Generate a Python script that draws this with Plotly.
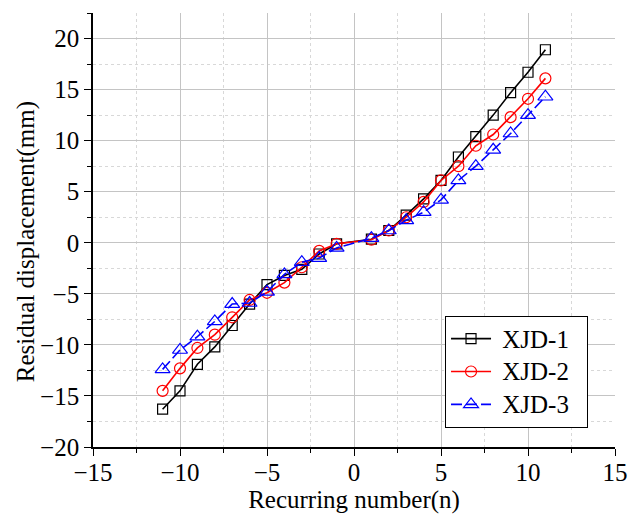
import plotly.graph_objects as go

# Recurring number (cycle index); no cycle at n = 0
cycles = [-11, -10, -9, -8, -7, -6, -5, -4, -3, -2, -1,
          1, 2, 3, 4, 5, 6, 7, 8, 9, 10, 11]

# Residual displacement (mm) for each specimen
xjd1 = [-16.3, -14.5, -11.9, -10.2, -8.1, -6.0, -4.1, -3.2, -2.6, -1.1, -0.1,
        0.35, 1.2, 2.7, 4.3, 6.1, 8.4, 10.4, 12.5, 14.7, 16.7, 18.9]
xjd2 = [-14.5, -12.3, -10.3, -9.0, -7.3, -5.6, -4.9, -3.9, -2.4, -0.8, -0.1,
        0.3, 1.2, 2.5, 4.0, 6.1, 7.5, 9.5, 10.6, 12.3, 14.1, 16.1]
xjd3 = [-12.4, -10.5, -9.2, -7.7, -6.0, -5.9, -4.8, -3.1, -1.9, -1.5, -0.5,
        0.45, 1.2, 2.2, 3.0, 4.2, 6.1, 7.5, 9.1, 10.7, 12.5, 14.3]

x_ticks = [-15, -10, -5, 0, 5, 10, 15]
y_ticks = [-20, -15, -10, -5, 0, 5, 10, 15, 20]

FONT = "Liberation Serif"


def legend_label(text):
    # larger legend text while keeping compact row spacing
    return '<span style="font-size:25px">\u00a0' + text + '\u00a0\u00a0</span>'


fig = go.Figure()

fig.add_trace(go.Scatter(
    x=cycles, y=xjd1, name=legend_label("XJD-1"), mode="lines+markers",
    line=dict(color="black", width=1.6),
    marker=dict(symbol="square-open", size=10, color="black",
                line=dict(width=1.2)),
))
fig.add_trace(go.Scatter(
    x=cycles, y=xjd2, name=legend_label("XJD-2"), mode="lines+markers",
    line=dict(color="red", width=1.6),
    marker=dict(symbol="circle-open", size=11, color="red",
                line=dict(width=1.2)),
))
fig.add_trace(go.Scatter(
    x=cycles, y=xjd3, name=legend_label("XJD-3"), mode="lines+markers",
    line=dict(color="blue", width=1.6, dash="11px,4px"),
    marker=dict(symbol="triangle-up-open", size=13, color="blue",
                line=dict(width=1.2)),
))

axis_common = dict(
    showline=True, linecolor="black", linewidth=1.6,
    ticks="outside", ticklen=7, tickwidth=1.4, tickcolor="black",
    showgrid=True, gridcolor="#c4c4c4", gridwidth=1.4,
    zeroline=False, automargin=False,
    tickfont=dict(family=FONT, size=25, color="black"),
    minor=dict(dtick=2.5, ticks="outside", ticklen=4, tickwidth=1.2,
               tickcolor="black", showgrid=True, gridcolor="#d8d8d8",
               griddash="dot", gridwidth=1),
)

fig.update_layout(
    width=628, height=518,
    margin=dict(l=93, r=13, t=13, b=71),
    paper_bgcolor="white", plot_bgcolor="white",
    font=dict(family=FONT, color="black"),
    xaxis=dict(
        range=[-15, 15], tickvals=x_ticks, ticklabelstandoff=-5,
        title=dict(text="Recurring number(n)", standoff=0,
                   font=dict(family=FONT, size=25)),
        **axis_common,
    ),
    yaxis=dict(
        range=[-20, 22.5], tickvals=y_ticks,
        **axis_common,
    ),
    legend=dict(
        x=0.674, y=0.302, xanchor="left", yanchor="top",
        bgcolor="white", bordercolor="black", borderwidth=1.2,
        font=dict(family=FONT, size=23, color="black"),
        tracegroupgap=0, itemwidth=40,
    ),
    annotations=[dict(
        text="Residual displacement(mm)", textangle=-90,
        xref="paper", yref="paper", x=0, y=0.472,
        xanchor="center", yanchor="middle", xshift=-67,
        showarrow=False, font=dict(family=FONT, size=25, color="black"),
    )],
)

fig.write_html("out.html")
